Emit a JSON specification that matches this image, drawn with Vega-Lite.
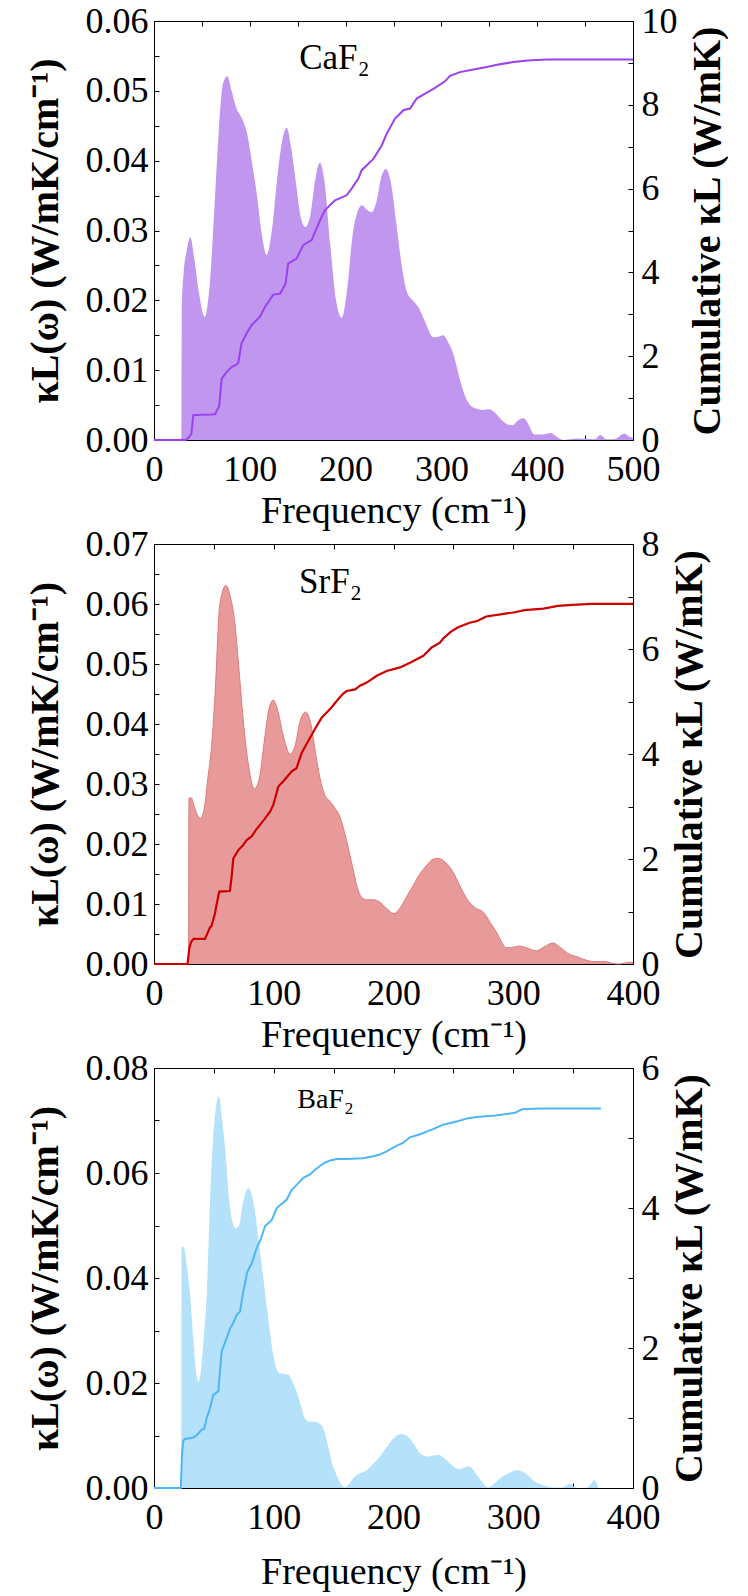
{
  "$schema": "https://vega.github.io/schema/vega-lite/v6.json",
  "background": "white",
  "padding": {"left": 24, "top": 2, "right": 0, "bottom": 0},
  "config": {
    "font": "Liberation Serif",
    "view": {"stroke": "black", "strokeWidth": 1},
    "axis": {
      "grid": false,
      "domainColor": "black",
      "tickColor": "black",
      "labelColor": "black",
      "titleColor": "black",
      "labelFont": "Liberation Serif",
      "titleFont": "Liberation Serif",
      "labelFontSize": 36,
      "titleFontSize": 38,
      "titleFontWeight": "normal",
      "tickSize": -5,
      "tickWidth": 1,
      "labelOverlap": false,
      "labelFlush": false
    },
    "axisBottom": {"labelPadding": 17, "titlePadding": 5},
    "axisLeft": {"labelPadding": 11, "titlePadding": 20, "titleFontWeight": "bold", "titleFontSize": 40},
    "axisRight": {"labelPadding": 13, "titlePadding": 10, "titleAngle": 270, "titleBaseline": "top", "titleFontWeight": "bold", "titleFontSize": 40}
  },
  "datasets": {
    "ca_k": [
      {"f":0,"k":0},{"f":28.5,"k":0},{"f":29,"k":0.019},{"f":31,"k":0.024},{"f":34,"k":0.027},{"f":38,"k":0.029},{"f":42,"k":0.026},{"f":47,"k":0.021},{"f":53,"k":0.0176},{"f":58,"k":0.022},{"f":63,"k":0.033},{"f":68,"k":0.045},{"f":72,"k":0.051},{"f":76.5,"k":0.0521},{"f":81,"k":0.050},{"f":86,"k":0.0475},{"f":92,"k":0.046},{"f":97,"k":0.044},{"f":102,"k":0.040},{"f":107,"k":0.0355},{"f":112,"k":0.030},{"f":117.6,"k":0.0265},{"f":123,"k":0.030},{"f":129,"k":0.038},{"f":134,"k":0.043},{"f":138.5,"k":0.0447},{"f":143,"k":0.042},{"f":148,"k":0.037},{"f":153,"k":0.032},{"f":158,"k":0.0305},{"f":163,"k":0.032},{"f":168,"k":0.037},{"f":173,"k":0.0397},{"f":178,"k":0.037},{"f":184,"k":0.028},{"f":190,"k":0.020},{"f":196,"k":0.0175},{"f":202,"k":0.022},{"f":207,"k":0.029},{"f":212,"k":0.0325},{"f":217,"k":0.0336},{"f":222,"k":0.0330},{"f":227,"k":0.0326},{"f":232,"k":0.034},{"f":237,"k":0.0375},{"f":242,"k":0.0388},{"f":247,"k":0.037},{"f":253,"k":0.031},{"f":258,"k":0.0255},{"f":264,"k":0.0212},{"f":270,"k":0.0200},{"f":276,"k":0.0190},{"f":283,"k":0.0169},{"f":291.5,"k":0.0147},{"f":297,"k":0.0148},{"f":302,"k":0.015},{"f":307,"k":0.0140},{"f":312,"k":0.0125},{"f":316,"k":0.0105},{"f":320,"k":0.0083},{"f":325,"k":0.0062},{"f":330,"k":0.005},{"f":336,"k":0.0045},{"f":343,"k":0.0043},{"f":350,"k":0.0044},{"f":355,"k":0.004},{"f":362,"k":0.003},{"f":368,"k":0.0023},{"f":374,"k":0.0021},{"f":380,"k":0.0028},{"f":386,"k":0.0031},{"f":391,"k":0.0022},{"f":397,"k":0.0008},{"f":405,"k":0.0008},{"f":414,"k":0.001},{"f":420,"k":0.0005},{"f":427,"k":0},{"f":441,"k":0.0002},{"f":460,"k":0.0001},{"f":466,"k":0.0007},{"f":472,"k":0.0001},{"f":480,"k":0.0001},{"f":491,"k":0.0009},{"f":496,"k":0.0005},{"f":500,"k":0.0003}
    ],
    "ca_c": [
      {"f":0,"c":0},{"f":33,"c":0},{"f":36,"c":0.05},{"f":39,"c":0.15},{"f":41,"c":0.59},{"f":50,"c":0.6},{"f":60,"c":0.61},{"f":64,"c":0.62},{"f":66,"c":0.72},{"f":68,"c":0.8},{"f":70.6,"c":1.46},{"f":75.7,"c":1.62},{"f":80.9,"c":1.74},{"f":86,"c":1.8},{"f":88,"c":1.85},{"f":91.3,"c":2.3},{"f":96.6,"c":2.54},{"f":101.8,"c":2.74},{"f":110.5,"c":2.94},{"f":115.7,"c":3.17},{"f":124.4,"c":3.47},{"f":131.4,"c":3.49},{"f":135.5,"c":3.65},{"f":137.3,"c":3.73},{"f":140,"c":4.21},{"f":148.8,"c":4.33},{"f":155.8,"c":4.65},{"f":164.5,"c":4.77},{"f":173.2,"c":5.24},{"f":178.4,"c":5.48},{"f":188.9,"c":5.72},{"f":201,"c":5.84},{"f":206.3,"c":6.0},{"f":213.3,"c":6.24},{"f":216.8,"c":6.44},{"f":229,"c":6.71},{"f":237.7,"c":7.03},{"f":242.9,"c":7.31},{"f":251.6,"c":7.67},{"f":260.3,"c":7.87},{"f":267.3,"c":7.91},{"f":274.2,"c":8.15},{"f":281.2,"c":8.24},{"f":291.6,"c":8.38},{"f":303.8,"c":8.56},{"f":309,"c":8.69},{"f":319.4,"c":8.78},{"f":333.4,"c":8.84},{"f":347.3,"c":8.9},{"f":359.5,"c":8.96},{"f":375,"c":9.02},{"f":390,"c":9.06},{"f":410,"c":9.08},{"f":500,"c":9.08}
    ],
    "sr_k": [
      {"f":0,"k":0},{"f":28.8,"k":0},{"f":29.2,"k":0.0276},{"f":31,"k":0.0277},{"f":34,"k":0.026},{"f":37,"k":0.0246},{"f":39,"k":0.0243},{"f":42,"k":0.026},{"f":45,"k":0.031},{"f":48.2,"k":0.0366},{"f":51,"k":0.045},{"f":55,"k":0.060},{"f":60.1,"k":0.0631},{"f":64,"k":0.061},{"f":67.6,"k":0.0567},{"f":71,"k":0.049},{"f":74.6,"k":0.0405},{"f":79,"k":0.033},{"f":83.8,"k":0.0292},{"f":88,"k":0.031},{"f":92,"k":0.037},{"f":96,"k":0.0425},{"f":99.6,"k":0.044},{"f":103,"k":0.0425},{"f":108,"k":0.038},{"f":113.6,"k":0.035},{"f":118,"k":0.0365},{"f":122,"k":0.0405},{"f":126.7,"k":0.042},{"f":131,"k":0.040},{"f":135,"k":0.035},{"f":138.6,"k":0.031},{"f":143,"k":0.028},{"f":147,"k":0.0271},{"f":151,"k":0.026},{"f":155.3,"k":0.0245},{"f":159,"k":0.022},{"f":162.3,"k":0.0193},{"f":166,"k":0.016},{"f":169.3,"k":0.0131},{"f":173,"k":0.0112},{"f":177.6,"k":0.0107},{"f":183,"k":0.0107},{"f":188,"k":0.0104},{"f":194,"k":0.0093},{"f":200.4,"k":0.0084},{"f":205,"k":0.0092},{"f":211,"k":0.0112},{"f":217,"k":0.0133},{"f":222,"k":0.015},{"f":228,"k":0.0165},{"f":233.3,"k":0.0175},{"f":237.5,"k":0.0176},{"f":243,"k":0.0170},{"f":249.5,"k":0.0154},{"f":255,"k":0.0132},{"f":261.5,"k":0.0108},{"f":269.5,"k":0.0092},{"f":274,"k":0.0088},{"f":277.4,"k":0.0080},{"f":281,"k":0.0068},{"f":285.4,"k":0.0055},{"f":290,"k":0.0038},{"f":294,"k":0.0027},{"f":300,"k":0.0028},{"f":305.4,"k":0.003},{"f":311,"k":0.0027},{"f":319.4,"k":0.0022},{"f":326,"k":0.0029},{"f":333.3,"k":0.0035},{"f":339,"k":0.0028},{"f":345.3,"k":0.0018},{"f":353.3,"k":0.0012},{"f":360,"k":0.0007},{"f":367,"k":0.0004},{"f":373,"k":0.0004},{"f":377,"k":0.0004},{"f":383,"k":0.0001},{"f":388,"k":0},{"f":398,"k":0.0003},{"f":400,"k":0.0002}
    ],
    "sr_c": [
      {"f":0,"c":0},{"f":28,"c":0},{"f":29.5,"c":0.3},{"f":31,"c":0.42},{"f":33,"c":0.48},{"f":42.5,"c":0.48},{"f":44,"c":0.55},{"f":46.8,"c":0.70},{"f":48,"c":0.72},{"f":50.9,"c":0.96},{"f":52,"c":1.1},{"f":54.5,"c":1.38},{"f":63.4,"c":1.39},{"f":65,"c":1.7},{"f":66.2,"c":2.01},{"f":70.4,"c":2.17},{"f":74,"c":2.25},{"f":77.4,"c":2.36},{"f":81.5,"c":2.43},{"f":85,"c":2.55},{"f":88.5,"c":2.65},{"f":92,"c":2.75},{"f":96.9,"c":2.9},{"f":99.6,"c":3.03},{"f":103.8,"c":3.38},{"f":108,"c":3.48},{"f":115,"c":3.67},{"f":119,"c":3.73},{"f":123.3,"c":4.02},{"f":130.3,"c":4.31},{"f":135,"c":4.5},{"f":140,"c":4.69},{"f":144.2,"c":4.79},{"f":148,"c":4.88},{"f":152.6,"c":5.01},{"f":158,"c":5.15},{"f":161,"c":5.2},{"f":168,"c":5.23},{"f":172,"c":5.3},{"f":177.6,"c":5.36},{"f":186,"c":5.49},{"f":194.3,"c":5.58},{"f":205.4,"c":5.65},{"f":213.8,"c":5.74},{"f":224.9,"c":5.87},{"f":231.9,"c":6.03},{"f":238.8,"c":6.12},{"f":241.5,"c":6.2},{"f":247.5,"c":6.32},{"f":253.5,"c":6.41},{"f":263.5,"c":6.5},{"f":269.5,"c":6.53},{"f":277.4,"c":6.62},{"f":289.4,"c":6.66},{"f":301.4,"c":6.70},{"f":309.4,"c":6.74},{"f":325.3,"c":6.77},{"f":337.3,"c":6.82},{"f":349.3,"c":6.84},{"f":365.3,"c":6.86},{"f":400,"c":6.86}
    ],
    "ba_k": [
      {"f":0,"k":0},{"f":22.8,"k":0},{"f":23.1,"k":0.046},{"f":25,"k":0.0458},{"f":27,"k":0.043},{"f":30.1,"k":0.0368},{"f":33,"k":0.028},{"f":35,"k":0.0225},{"f":37,"k":0.0202},{"f":39,"k":0.022},{"f":41,"k":0.027},{"f":44,"k":0.0368},{"f":48.2,"k":0.0622},{"f":51,"k":0.071},{"f":54.3,"k":0.0746},{"f":57,"k":0.070},{"f":59.3,"k":0.0648},{"f":63.5,"k":0.0533},{"f":68.2,"k":0.0495},{"f":71,"k":0.050},{"f":74,"k":0.054},{"f":78.8,"k":0.0571},{"f":81.5,"k":0.056},{"f":84.3,"k":0.0527},{"f":88,"k":0.046},{"f":91.3,"k":0.040},{"f":95,"k":0.033},{"f":98.3,"k":0.0272},{"f":102,"k":0.023},{"f":105.2,"k":0.0218},{"f":109,"k":0.0217},{"f":112.2,"k":0.0216},{"f":116,"k":0.020},{"f":119.2,"k":0.0183},{"f":123,"k":0.0155},{"f":126.1,"k":0.0132},{"f":130,"k":0.0126},{"f":134.4,"k":0.0126},{"f":138,"k":0.0123},{"f":141,"k":0.0115},{"f":145.7,"k":0.0077},{"f":149,"k":0.0045},{"f":151.7,"k":0.0029},{"f":155,"k":0.0012},{"f":159.7,"k":0.0001},{"f":163,"k":0.0008},{"f":167.7,"k":0.0022},{"f":172,"k":0.0028},{"f":177.6,"k":0.0034},{"f":183,"k":0.0046},{"f":189.6,"k":0.0063},{"f":195,"k":0.0080},{"f":199.6,"k":0.0094},{"f":206.8,"k":0.0103},{"f":210,"k":0.0101},{"f":213.6,"k":0.0094},{"f":218,"k":0.0080},{"f":221.6,"k":0.0067},{"f":226,"k":0.0061},{"f":229.5,"k":0.006},{"f":233,"k":0.0062},{"f":237.5,"k":0.0063},{"f":242,"k":0.0057},{"f":247.5,"k":0.0046},{"f":252,"k":0.0038},{"f":255.5,"k":0.0036},{"f":259,"k":0.0039},{"f":263.5,"k":0.0041},{"f":266,"k":0.0036},{"f":269.5,"k":0.0025},{"f":274,"k":0.0012},{"f":279.4,"k":0.0001},{"f":284,"k":0.0008},{"f":289.4,"k":0.0019},{"f":296,"k":0.0028},{"f":303.4,"k":0.0034},{"f":308,"k":0.0031},{"f":313.4,"k":0.0022},{"f":317,"k":0.0014},{"f":321.4,"k":0.0008},{"f":327,"k":0.0004},{"f":333.3,"k":0.0001},{"f":340,"k":0.0001},{"f":344,"k":0.0004},{"f":347.3,"k":0.0008},{"f":351,"k":0.0002},{"f":355.3,"k":0},{"f":362,"k":0.0001},{"f":365,"k":0.0008},{"f":367.3,"k":0.0015},{"f":369.5,"k":0.001},{"f":371.3,"k":0},{"f":373,"k":0}
    ],
    "ba_c": [
      {"f":0,"c":0},{"f":22.3,"c":0},{"f":23.5,"c":0.5},{"f":24.5,"c":0.68},{"f":26,"c":0.7},{"f":33,"c":0.72},{"f":36,"c":0.76},{"f":39.8,"c":0.83},{"f":42,"c":0.85},{"f":44,"c":1.0},{"f":46.8,"c":1.14},{"f":49.5,"c":1.33},{"f":53.7,"c":1.38},{"f":56.5,"c":1.95},{"f":60.7,"c":2.14},{"f":63.5,"c":2.28},{"f":66,"c":2.35},{"f":69,"c":2.47},{"f":71.8,"c":2.52},{"f":74.6,"c":2.81},{"f":78,"c":3.09},{"f":81.6,"c":3.21},{"f":85.8,"c":3.43},{"f":89.1,"c":3.55},{"f":92.7,"c":3.74},{"f":98.3,"c":3.83},{"f":102.5,"c":4.0},{"f":106,"c":4.05},{"f":110.8,"c":4.12},{"f":115,"c":4.26},{"f":119.2,"c":4.33},{"f":124.7,"c":4.43},{"f":130.3,"c":4.48},{"f":134,"c":4.54},{"f":138.6,"c":4.6},{"f":143,"c":4.65},{"f":147,"c":4.68},{"f":153,"c":4.70},{"f":160.9,"c":4.70},{"f":174.7,"c":4.71},{"f":183.1,"c":4.74},{"f":188,"c":4.76},{"f":194.3,"c":4.81},{"f":202.7,"c":4.89},{"f":208,"c":4.93},{"f":213.6,"c":5.01},{"f":221.6,"c":5.05},{"f":233.5,"c":5.13},{"f":241.5,"c":5.19},{"f":253.5,"c":5.24},{"f":261.5,"c":5.28},{"f":269.5,"c":5.30},{"f":285.4,"c":5.32},{"f":301.4,"c":5.36},{"f":307.4,"c":5.41},{"f":321.4,"c":5.42},{"f":373.3,"c":5.42}
    ],
    "ca_t": [{"f":188.4,"k":0.0531,"t":"CaF₂"}],
    "sr_t": [{"f":147.4,"k":0.0618,"t":"SrF₂"}],
    "ba_t": [{"f":143.2,"k":0.0724,"t":"BaF₂"}]
  },
  "vconcat": [
    {
      "width": 479, "height": 419,
      "layer": [
        {
          "data": {"name": "ca_k"},
          "mark": {"type": "area", "interpolate": "monotone", "color": "#C196EE", "opacity": 1},
          "encoding": {
            "x": {"field": "f", "type": "quantitative", "scale": {"domain": [0, 500], "nice": false},
                  "axis": {"orient": "bottom", "title": "Frequency (cm⁻¹)", "values": [0,50,100,150,200,250,300,350,400,450,500], "labelExpr": "datum.value % 100 == 0 ? datum.label : ''"}},
            "y": {"field": "k", "type": "quantitative", "scale": {"domain": [0, 0.06], "nice": false},
                  "axis": {"orient": "left", "title": "κL(ω) (W/mK/cm⁻¹)", "values": [0,0.005,0.01,0.015,0.02,0.025,0.03,0.035,0.04,0.045,0.05,0.055,0.06], "labelExpr": "round(datum.value*1000) % 10 == 0 ? format(datum.value, '.2f') : ''"}}
          }
        },
        {
          "data": {"name": "ca_c"},
          "mark": {"type": "line", "color": "#9B41F2", "strokeWidth": 2},
          "encoding": {
            "x": {"field": "f", "type": "quantitative", "axis": {"orient": "top", "labels": false, "title": null, "values": [0,50,100,150,200,250,300,350,400,450,500]}},
            "y": {"field": "c", "type": "quantitative", "scale": {"domain": [0, 10], "nice": false},
                  "axis": {"orient": "right", "title": "Cumulative κL (W/mK)", "values": [0,1,2,3,4,5,6,7,8,9,10], "labelExpr": "datum.value % 2 == 0 ? datum.label : ''"}}
          }
        },
        {
          "data": {"name": "ca_t"},
          "mark": {"type": "text", "fontSize": 35, "align": "center", "baseline": "alphabetic", "color": "black"},
          "encoding": {
            "x": {"field": "f", "type": "quantitative", "axis": null},
            "y": {"field": "k", "type": "quantitative", "scale": {"domain": [0, 0.06], "nice": false}, "axis": null},
            "text": {"field": "t"}
          }
        }
      ],
      "resolve": {"scale": {"y": "independent"}, "axis": {"x": "independent", "y": "independent"}}
    },
    {
      "width": 479, "height": 420,
      "layer": [
        {
          "data": {"name": "sr_k"},
          "mark": {"type": "area", "interpolate": "monotone", "color": "#E89A9A", "opacity": 1, "line": {"color": "#DF7B7B", "strokeWidth": 1}},
          "encoding": {
            "x": {"field": "f", "type": "quantitative", "scale": {"domain": [0, 400], "nice": false},
                  "axis": {"orient": "bottom", "title": "Frequency (cm⁻¹)", "values": [0,50,100,150,200,250,300,350,400], "labelExpr": "datum.value % 100 == 0 ? datum.label : ''"}},
            "y": {"field": "k", "type": "quantitative", "scale": {"domain": [0, 0.07], "nice": false},
                  "axis": {"orient": "left", "title": "κL(ω) (W/mK/cm⁻¹)", "values": [0,0.005,0.01,0.015,0.02,0.025,0.03,0.035,0.04,0.045,0.05,0.055,0.06,0.065,0.07], "labelExpr": "round(datum.value*1000) % 10 == 0 ? format(datum.value, '.2f') : ''"}}
          }
        },
        {
          "data": {"name": "sr_c"},
          "mark": {"type": "line", "color": "#CC0000", "strokeWidth": 2.2},
          "encoding": {
            "x": {"field": "f", "type": "quantitative", "axis": {"orient": "top", "labels": false, "title": null, "values": [0,50,100,150,200,250,300,350,400]}},
            "y": {"field": "c", "type": "quantitative", "scale": {"domain": [0, 8], "nice": false},
                  "axis": {"orient": "right", "title": "Cumulative κL (W/mK)", "values": [0,1,2,3,4,5,6,7,8], "labelExpr": "datum.value % 2 == 0 ? datum.label : ''"}}
          }
        },
        {
          "data": {"name": "sr_t"},
          "mark": {"type": "text", "fontSize": 35, "align": "center", "baseline": "alphabetic", "color": "black"},
          "encoding": {
            "x": {"field": "f", "type": "quantitative", "axis": null},
            "y": {"field": "k", "type": "quantitative", "scale": {"domain": [0, 0.07], "nice": false}, "axis": null},
            "text": {"field": "t"}
          }
        }
      ],
      "resolve": {"scale": {"y": "independent"}, "axis": {"x": "independent", "y": "independent"}}
    },
    {
      "width": 479, "height": 420,
      "layer": [
        {
          "data": {"name": "ba_k"},
          "mark": {"type": "area", "interpolate": "monotone", "color": "#B5E1FA", "opacity": 1},
          "encoding": {
            "x": {"field": "f", "type": "quantitative", "scale": {"domain": [0, 400], "nice": false},
                  "axis": {"orient": "bottom", "title": "Frequency (cm⁻¹)", "titlePadding": 18, "values": [0,50,100,150,200,250,300,350,400], "labelExpr": "datum.value % 100 == 0 ? datum.label : ''"}},
            "y": {"field": "k", "type": "quantitative", "scale": {"domain": [0, 0.08], "nice": false},
                  "axis": {"orient": "left", "title": "κL(ω) (W/mK/cm⁻¹)", "values": [0,0.01,0.02,0.03,0.04,0.05,0.06,0.07,0.08], "labelExpr": "round(datum.value*100) % 2 == 0 ? format(datum.value, '.2f') : ''"}}
          }
        },
        {
          "data": {"name": "ba_c"},
          "mark": {"type": "line", "color": "#4DB6F7", "strokeWidth": 2},
          "encoding": {
            "x": {"field": "f", "type": "quantitative", "axis": {"orient": "top", "labels": false, "title": null, "values": [0,50,100,150,200,250,300,350,400]}},
            "y": {"field": "c", "type": "quantitative", "scale": {"domain": [0, 6], "nice": false},
                  "axis": {"orient": "right", "title": "Cumulative κL (W/mK)", "values": [0,1,2,3,4,5,6], "labelExpr": "datum.value % 2 == 0 ? datum.label : ''"}}
          }
        },
        {
          "data": {"name": "ba_t"},
          "mark": {"type": "text", "fontSize": 28, "align": "center", "baseline": "alphabetic", "color": "black"},
          "encoding": {
            "x": {"field": "f", "type": "quantitative", "axis": null},
            "y": {"field": "k", "type": "quantitative", "scale": {"domain": [0, 0.08], "nice": false}, "axis": null},
            "text": {"field": "t"}
          }
        }
      ],
      "resolve": {"scale": {"y": "independent"}, "axis": {"x": "independent", "y": "independent"}}
    }
  ],
  "spacing": 104,
  "bounds": "flush"
}
